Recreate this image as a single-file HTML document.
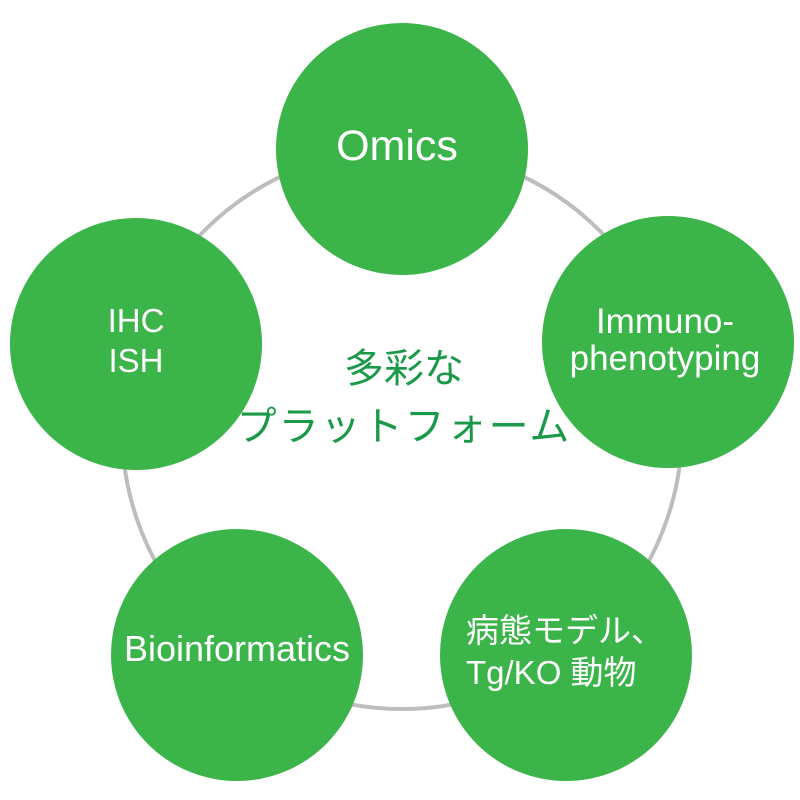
<!DOCTYPE html>
<html><head><meta charset="utf-8"><style>
html,body{margin:0;padding:0;background:#fff;width:800px;height:800px;overflow:hidden}
text{font-family:"Liberation Sans","Noto Sans CJK JP",sans-serif}
</style></head><body>
<svg width="800" height="800" viewBox="0 0 800 800" xmlns="http://www.w3.org/2000/svg">
<circle cx="402" cy="429" r="280" fill="none" stroke="#bdbdbd" stroke-width="4"/>
<g fill="#3bb44a">
<circle cx="402" cy="149" r="126"/>
<circle cx="668" cy="342" r="126"/>
<circle cx="136" cy="344" r="126"/>
<circle cx="237" cy="655" r="126"/>
<circle cx="566" cy="655" r="126"/>
</g>
<g fill="#fff" text-anchor="middle">
<text x="397" y="160" font-size="43">Omics</text>
<text x="665" y="333" font-size="35">Immuno-</text>
<text x="665" y="370" font-size="35">phenotyping</text>
<text x="136" y="332" font-size="33">IHC</text>
<text x="136" y="372" font-size="33">ISH</text>
<text x="237" y="661" font-size="36">Bioinformatics</text>
</g>
<g fill="#fff">
<text x="466" y="642" font-size="33">病態モデル、</text>
<text x="466" y="684" font-size="33">Tg/KO 動物</text>
</g>
<g fill="#1a9a48" text-anchor="middle">
<text x="404" y="382" font-size="40">多彩な</text>
<text x="404" y="440" font-size="40" letter-spacing="2">プラットフォーム</text>
</g>
</svg>
</body></html>
